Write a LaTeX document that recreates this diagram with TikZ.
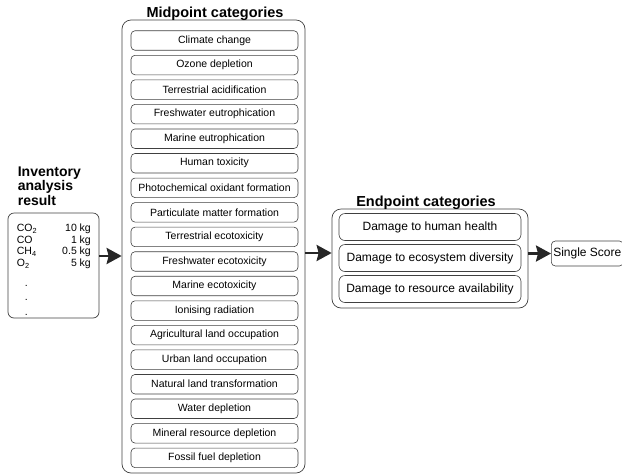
\documentclass[tikz,border=0pt]{standalone}
\usepackage{fontspec}
\setmainfont{Liberation Sans}
\usetikzlibrary{positioning,arrows.meta}

\begin{document}
\begin{tikzpicture}[x=1pt,y=-1pt,
    groupbox/.style={draw=black!75,line width=0.7pt,rounded corners=9pt,inner sep=0pt},
    catbox/.style={draw=black!75,line width=0.6pt,rounded corners=4pt,minimum width=167pt,minimum height=19.5pt,inner sep=0pt,outer sep=0pt,font=\fontsize{10.5}{12}\selectfont},
    endbox/.style={draw=black!75,line width=0.6pt,rounded corners=6pt,minimum width=182pt,minimum height=27pt,inner sep=0pt,outer sep=0pt,font=\fontsize{12}{14}\selectfont},
    heading/.style={inner sep=0pt,font=\bfseries\fontsize{14.5}{14.5}\selectfont},
    flow/.style={-{Stealth[length=15pt,width=16pt,inset=2pt]},line width=2.6pt,black!85}]
  \useasboundingbox (0,0) rectangle (622,475);

  % inventory
  \node[groupbox,rounded corners=6pt,minimum width=91pt,minimum height=105pt](inventory) at (53.5,265.5){};
  \node[heading,anchor=south west,align=left,font=\bfseries\fontsize{14}{14.5}\selectfont](invtitle)
    at ([xshift=10pt,yshift=7pt]inventory.north west){Inventory\\analysis\\result};
  \node[anchor=north west,inner sep=0pt,align=left,font=\fontsize{10.5}{11.5}\selectfont](invlist)
    at ([xshift=9pt,yshift=-11.5pt]inventory.north west){%
    \makebox[74pt]{CO\textsubscript{2}\hfill 10 kg}\\
    \makebox[74pt]{CO\hfill 1 kg}\\
    \makebox[74pt]{CH\textsubscript{4}\hfill 0.5 kg}\\
    \makebox[74pt]{O\textsubscript{2}\hfill 5 kg}\\[8.5pt]
    \hspace{8pt}.\\[3pt]
    \hspace{8pt}.\\[3pt]
    \hspace{8pt}.};

  % midpoint
  \node[groupbox,minimum width=183pt,minimum height=453pt](midpoint) at (213.5,246.5){};
  \node[heading,anchor=base](midtitle) at ([xshift=1.5pt,yshift=2.5pt]midpoint.north){Midpoint categories};
  \node[catbox](climate) at (214.5,40.5){Climate change};
  \node[catbox,below=5.05pt of climate](ozone){Ozone depletion};
  \node[catbox,below=5.05pt of ozone](tacid){Terrestrial acidification};
  \node[catbox,below=5.05pt of tacid](feut){Freshwater eutrophication};
  \node[catbox,below=5.05pt of feut](meut){Marine eutrophication};
  \node[catbox,below=5.05pt of meut](htox){Human toxicity};
  \node[catbox,below=5.05pt of htox](photo){Photochemical oxidant formation};
  \node[catbox,below=5.05pt of photo](pm){Particulate matter formation};
  \node[catbox,below=5.05pt of pm](tetox){Terrestrial ecotoxicity};
  \node[catbox,below=5.05pt of tetox](fetox){Freshwater ecotoxicity};
  \node[catbox,below=5.05pt of fetox](metox){Marine ecotoxicity};
  \node[catbox,below=5.05pt of metox](ion){Ionising radiation};
  \node[catbox,below=5.05pt of ion](agri){Agricultural land occupation};
  \node[catbox,below=5.05pt of agri](urban){Urban land occupation};
  \node[catbox,below=5.05pt of urban](natural){Natural land transformation};
  \node[catbox,below=5.05pt of natural](water){Water depletion};
  \node[catbox,below=5.05pt of water](mineral){Mineral resource depletion};
  \node[catbox,below=5.05pt of mineral](fossil){Fossil fuel depletion};

  % endpoint
  \node[groupbox,minimum width=196pt,minimum height=99pt](endpoint) at (430,258.5){};
  \node[heading,anchor=base](endtitle) at ([xshift=-4pt,yshift=2pt]endpoint.north){Endpoint categories};
  \node[endbox](health) at (430,227){Damage to human health};
  \node[endbox,below=4pt of health](ecosys){Damage to ecosystem diversity};
  \node[endbox,below=4pt of ecosys](resource){Damage to resource availability};

  % single score
  \node[draw=black!75,line width=0.6pt,rounded corners=4pt,anchor=west,minimum height=25pt,inner ysep=0pt,inner xsep=2pt,font=\fontsize{12}{14}\selectfont](single)
    at (551,253.5){Single Score};

  \draw[flow] ([yshift=9.5pt]inventory.east) coordinate (a1) -- (a1 -| midpoint.west);
  \draw[flow] ([yshift=5.5pt]endpoint.west -| midpoint.east) -- ([yshift=5.5pt]endpoint.west);
  \draw[flow] (endpoint.east |- single.west) -- (single.west);
\end{tikzpicture}
\end{document}
